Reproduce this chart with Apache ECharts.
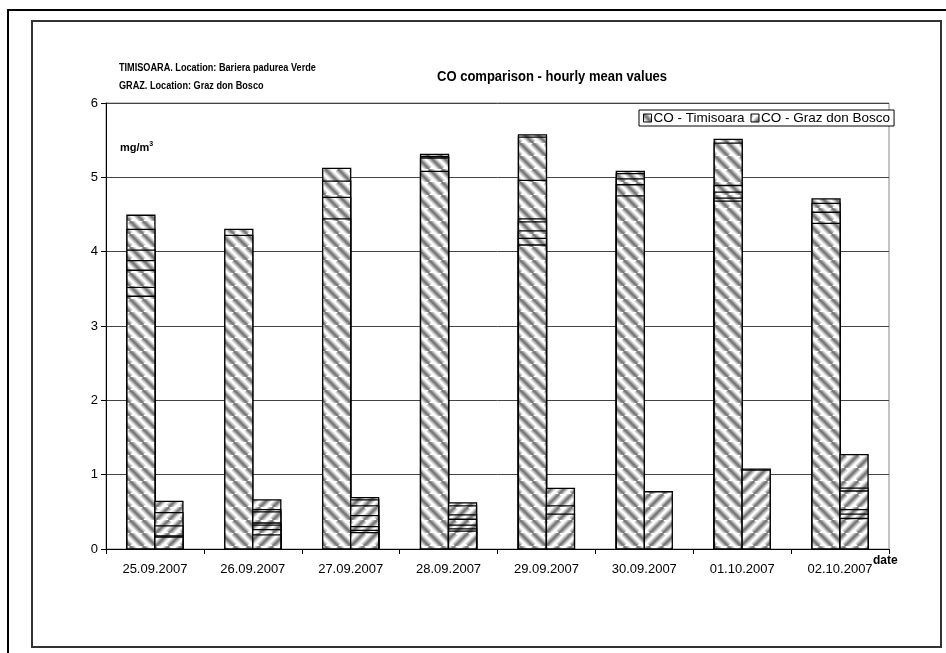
<!DOCTYPE html>
<html>
<head>
<meta charset="utf-8">
<script src="https://cdn.jsdelivr.net/npm/echarts@6/dist/echarts.min.js"></script>
<style>
html,body{margin:0;padding:0;background:#fff;}
#chart{width:946px;height:653px;}
</style>
</head>
<body>
<div id="chart"></div>
<script>
// ---- data ----
const dates = ['25.09.2007','26.09.2007','27.09.2007','28.09.2007','29.09.2007','30.09.2007','01.10.2007','02.10.2007'];
// visible hourly mean values per day (mg/m3), Timisoara
const timisoaraHourly = [
  [4.49, 4.30, 4.02, 3.88, 3.75, 3.52, 3.40],
  [4.30, 4.22],
  [5.12, 4.95, 4.73, 4.44],
  [5.31, 5.28, 5.26, 5.08],
  [5.57, 5.54, 4.96, 4.44, 4.40, 4.28, 4.18, 4.09],
  [5.08, 5.05, 4.98, 4.90, 4.75],
  [5.51, 5.46, 4.89, 4.80, 4.72, 4.68],
  [4.71, 4.65, 4.53, 4.38]
];
// visible hourly mean values per day (mg/m3), Graz don Bosco
const grazHourly = [
  [0.64, 0.49, 0.31, 0.175, 0.16],
  [0.66, 0.53, 0.50, 0.35, 0.32, 0.26, 0.19],
  [0.69, 0.66, 0.58, 0.45, 0.30, 0.25, 0.22],
  [0.62, 0.58, 0.46, 0.40, 0.32, 0.27, 0.24],
  [0.815, 0.58, 0.47],
  [0.77],
  [1.075, 1.06],
  [1.27, 0.82, 0.78, 0.53, 0.47, 0.41]
];
const yTicks = [0, 1, 2, 3, 4, 5, 6];
const seriesNames = ['CO - Timisoara', 'CO - Graz don Bosco'];
const headerLines = ['TIMISOARA. Location: Bariera padurea Verde', 'GRAZ. Location: Graz don Bosco'];
const chartTitle = 'CO comparison - hourly mean values';

// ---- hatch patterns ----
function makeHatch(dir) {
  const P = 13;
  const c = document.createElement('canvas');
  c.width = P; c.height = P;
  const g = c.getContext('2d');
  g.fillStyle = '#fff';
  g.fillRect(0, 0, P, P);
  const draw = (w, col) => {
    g.strokeStyle = col; g.lineWidth = w;
    for (let k = -1; k <= 1; k++) {
      g.beginPath();
      if (dir === 'back') { // "\" top-left to bottom-right
        g.moveTo(k * P, 0); g.lineTo(k * P + P, P);
      } else {              // "/" bottom-left to top-right
        g.moveTo(k * P, P); g.lineTo(k * P + P, 0);
      }
      g.stroke();
    }
  };
  draw(7.0, '#d4d4d4');
  draw(4.4, '#a4a4a4');
  draw(2.2, '#7a7a7a');
  return c;
}
const patT = { image: makeHatch('back'), repeat: 'repeat' };
const patG = { image: makeHatch('fwd'), repeat: 'repeat' };

function buildData(hourly) {
  const out = [];
  hourly.forEach((vals, i) => {
    vals.slice().sort((a, b) => b - a).forEach(v => out.push([i, v]));
  });
  return out;
}

function makeRender(side, pattern) {
  return function (params, api) {
    const cat = api.value(0), v = api.value(1);
    const base = api.coord([cat, 0]);
    const top = api.coord([cat, v]);
    const band = api.size([1, 0])[0];
    const w = band * 0.286;
    const x = side === 'left' ? base[0] - w : base[0];
    return {
      type: 'rect',
      shape: { x: x, y: top[1], width: w, height: base[1] - top[1] },
      style: { fill: pattern, stroke: '#000', lineWidth: 1.3 }
    };
  };
}

const FONT = 'Arial, "Liberation Sans", sans-serif';
const chart = echarts.init(document.getElementById('chart'), null, { renderer: 'canvas' });
chart.setOption({
  animation: false,
  backgroundColor: '#fff',
  title: [
    { text: 'mg/m{s|3}', left: 120, top: 141,
      textStyle: { fontFamily: FONT, fontSize: 11, fontWeight: 'bold', color: '#000',
        rich: { s: { fontFamily: FONT, fontSize: 7, fontWeight: 'bold', verticalAlign: 'top', padding: [0, 0, 7, 0] } } },
      padding: 0 },
    { text: 'date', left: 873, top: 555,
      textStyle: { fontFamily: FONT, fontSize: 12, fontWeight: 'bold', color: '#000' }, padding: 0 }
  ],
  legend: {
    left: 639, top: 110,
    orient: 'horizontal',
    padding: [1, 4, 1, 4],
    itemGap: 6,
    itemWidth: 8, itemHeight: 8,
    borderColor: '#000', borderWidth: 1, backgroundColor: '#fff',
    textStyle: { fontFamily: FONT, fontSize: 13.5, color: '#000', padding: [0, 0, 0, -3] },
    data: [
      { name: seriesNames[0], icon: 'rect', itemStyle: { color: patT, borderColor: '#000', borderWidth: 1 } },
      { name: seriesNames[1], icon: 'rect', itemStyle: { color: patG, borderColor: '#000', borderWidth: 1 } }
    ]
  },
  grid: { left: 106, right: 57, top: 103, bottom: 104, show: true, borderColor: '#888', borderWidth: 1, backgroundColor: 'transparent' },
  xAxis: {
    type: 'category',
    data: dates,
    boundaryGap: true,
    axisLine: { lineStyle: { color: '#000', width: 1 } },
    axisTick: { show: true, length: 5, lineStyle: { color: '#000' } },
    axisLabel: { fontFamily: FONT, fontSize: 13, color: '#000', margin: 14 }
  },
  yAxis: {
    type: 'value',
    min: yTicks[0], max: yTicks[yTicks.length - 1], interval: 1,
    axisLine: { show: true, lineStyle: { color: '#000', width: 1 } },
    axisTick: { show: true, length: 5, lineStyle: { color: '#000' } },
    axisLabel: { fontFamily: FONT, fontSize: 13, color: '#000', margin: 8 },
    splitLine: { show: true, lineStyle: { color: '#444', width: 1 } }
  },
  graphic: [
    { type: 'rect', silent: true, z: -10, shape: { x: 8, y: 10, width: 1000, height: 1000 },
      style: { fill: 'none', stroke: '#000', lineWidth: 2 } },
    { type: 'rect', silent: true, z: -10, shape: { x: 32, y: 21, width: 909, height: 626 },
      style: { fill: 'none', stroke: '#333', lineWidth: 2 } },
    { type: 'text', silent: true, x: 119, y: 62, scaleX: 0.83,
      style: { text: headerLines[0], font: 'bold 11px ' + FONT, fill: '#000', verticalAlign: 'top' } },
    { type: 'text', silent: true, x: 119, y: 80, scaleX: 0.83,
      style: { text: headerLines[1], font: 'bold 11px ' + FONT, fill: '#000', verticalAlign: 'top' } },
    { type: 'text', silent: true, x: 437, y: 70, scaleX: 0.93,
      style: { text: chartTitle, font: 'bold 14px ' + FONT, fill: '#000', verticalAlign: 'top' } }
  ],
  series: [
    { name: seriesNames[0], type: 'custom', renderItem: makeRender('left', patT),
      data: buildData(timisoaraHourly), encode: { x: 0, y: 1 }, z: 3, itemStyle: { color: patT } },
    { name: seriesNames[1], type: 'custom', renderItem: makeRender('right', patG),
      data: buildData(grazHourly), encode: { x: 0, y: 1 }, z: 3, itemStyle: { color: patG } }
  ]
});
</script>
</body>
</html>
